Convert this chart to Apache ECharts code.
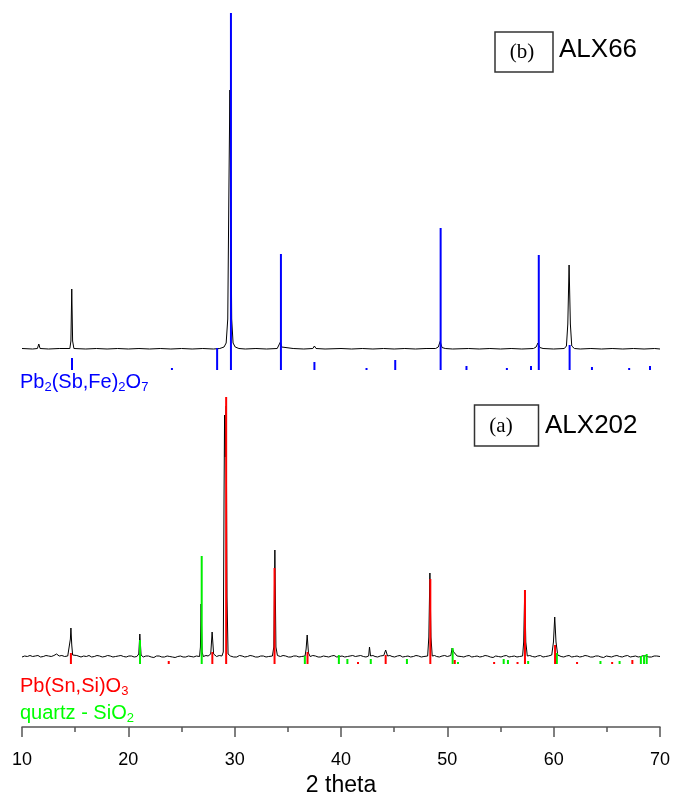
<!DOCTYPE html>
<html>
<head>
<meta charset="utf-8">
<script src="https://cdn.jsdelivr.net/npm/echarts@6/dist/echarts.min.js"></script>
<style>html,body{margin:0;padding:0;background:#fff;}#chart{width:674px;height:793px;}</style>
</head>
<body>
<div id="chart"></div>
<script>
// x axis (2 theta)
const xRange = [10, 70];
const xTickInterval = 10;

// ALX66 measured pattern: [2theta, intensity above its baseline]
const alx66Trace = [
  [10.0,0.5],[11.0,0],[11.45,0.5],[11.58,5],[11.7,0.5],[12.5,0],[13.5,0.5],[14.5,0.5],[14.6,8],[14.68,60],[14.76,8],[14.88,0.5],
  [16,0],[17,0.5],[18,0],[19,0.5],[20,0],[21,0.5],[22,0],[23,0.5],[24,0],[25,0.5],[26,0],[27,0.5],[28,0],[28.6,0.5],
  [29.0,2],[29.2,6],[29.35,30],[29.45,150],[29.55,259],[29.63,160],[29.72,30],[29.85,6],[30.05,2],[30.4,0.5],[31,0],[32,0.5],[33,0],
  [34.0,0.5],[34.18,2],[34.3,7],[34.42,2],[34.6,0],[35.5,0.5],[36.5,0],[37.35,0.5],[37.5,3],[37.65,0.5],[38.5,0],[40,0.5],[41,0],
  [42,0.5],[43,0],[44,0.5],[45,0],[46,0.5],[47,0],[48,0.5],[48.9,0.5],[49.15,2],[49.32,7.5],[49.5,1.5],[49.8,0.5],[50.5,0],[52,0.5],
  [53,0],[54,0.5],[55,0],[56,0.5],[57,0],[58.1,0.5],[58.35,2],[58.52,6],[58.7,1.5],[59,0.5],[60,0],[61.0,0.5],[61.2,3],[61.33,25],
  [61.45,84],[61.57,25],[61.7,3],[61.95,0.5],[62.5,0],[63.5,0.5],[64.5,0],[65.5,0.5],[66.5,0],[67.5,0.5],[68.5,0],[69.5,0.5],[70,0]
];
// Pb2(Sb,Fe)2O7 reference sticks: [2theta, height]
const pbSbFeSticks = [
  [14.7,12],[24.1,2],[28.35,22],[29.65,357],[34.35,116],[37.5,8],[42.4,2],[45.1,10],[49.37,142],[51.8,4],[55.6,2],
  [57.87,4],[58.6,115],[61.5,25],[63.6,3],[67.1,2],[69.06,4]
];
// ALX202 measured pattern
const alx202Trace = [
  [10.0,0],[10.25,1],[10.5,0.5],[10.75,1.5],[11,0.5],[11.25,1],[11.5,1.5],[11.75,0],[12,0.5],[12.25,1.5],[12.5,1],[12.75,0.5],[13,1.5],
  [13.25,3],[13.5,1],[13.75,1.5],[14,0.5],[14.3,1],[14.45,3],[14.55,18],[14.6,29],[14.68,12],[14.76,2],[14.9,0.5],[15.15,1.5],[15.3,1],
  [15.55,0],[15.8,1],[16.05,0.5],[16.3,1.5],[16.55,0],[16.8,0.5],[17.05,1.5],[17.3,1],[17.55,0],[17.8,0.5],[18.05,1.5],[18.3,1],[18.55,0],
  [18.8,0.5],[19.05,1],[19.3,1.5],[19.55,0.5],[19.8,0],[20.05,1],[20.3,1],[20.55,0],[20.8,0.5],
  [20.98,3],[21.08,23],[21.2,2],[21.4,0],[21.65,1],[21.9,1],[22.15,0],[22.4,-0.5],[22.65,1],[22.9,1],[23.15,0],[23.4,0],[23.65,1],[23.9,0.5],
  [24.15,0],[24.4,-0.5],[24.65,0.5],[24.9,1],[25.15,0],[25.4,0],[25.65,1],[25.9,0.5],[26.15,0],
  [26.4,1],[26.7,0.5],[26.78,10],[26.84,53],[26.94,5],[27.05,0.5],[27.3,1.5],[27.5,1],[27.75,3],[27.88,25],[28.02,3],[28.3,0.5],[28.55,1.5],
  [28.8,1],[28.93,5],[29.0,160],[29.05,242],[29.12,200],[29.2,251],[29.28,60],[29.38,3],[29.6,1],[29.9,0],[30.2,0],[30.45,1.5],[30.7,1],
  [30.95,0],[31.2,0.5],[31.45,1.5],[31.7,1],[31.95,0],[32.2,0],[32.45,1],[32.7,1],[32.95,0],[33.2,0.5],
  [33.55,1],[33.68,10],[33.78,107],[33.88,10],[34.02,1.5],[34.3,0.5],[34.55,1.5],[34.8,1],[35.05,0],[35.3,0],[35.55,1],[35.8,1],[36.05,0],
  [36.3,0.5],[36.62,1],[36.72,8],[36.82,22],[36.94,4],[37.1,0.5],[37.35,1.5],[37.6,1],[37.85,0],[38.1,0],[38.35,1],[38.6,0.5],[38.85,0],
  [39.1,1],[39.35,1.5],[39.6,0],[39.85,0.5],[40.1,1],[40.35,0],[40.6,0.5],[40.85,1],[41.1,1.5],[41.35,0.5],[41.6,1],[41.85,1.5],[42.1,0.5],
  [42.35,0],[42.6,1],[42.68,10],[42.78,1],[43.0,1.5],[43.2,0.5],[43.45,0],[43.7,1],[44.02,1.5],[44.2,7],[44.38,1],[44.6,1.5],[44.8,0.5],
  [45.05,0],[45.3,1],[45.55,1.5],[45.8,0],[46.05,0.5],[46.3,1],[46.55,0],[46.8,0.5],[47.05,1.5],[47.3,1],[47.55,0],[47.8,0.5],
  [48.15,1],[48.26,20],[48.36,84],[48.46,20],[48.58,1],[48.8,1.5],[49,0.5],[49.25,0],[49.5,1],[49.75,1.5],[50.0,0.5],[50.33,1.5],[50.45,9],
  [50.6,5],[50.75,7],[50.92,1],[51.1,1.5],[51.3,0.5],[51.55,0],[51.8,1],[52.05,1.5],[52.3,0],[52.55,0.5],[52.8,1],[53.05,0],[53.3,0.5],
  [53.55,1.5],[53.8,1],[54.05,0],[54.3,-0.5],[54.55,1],[54.8,0.5],[55.05,0],[55.3,1],[55.55,1.5],[55.8,0],[56.05,0.5],[56.3,1],[56.55,0],
  [56.8,0.5],[57.08,1],[57.18,15],[57.28,67],[57.38,15],[57.52,1],[57.75,1.5],[58,0.5],[58.25,0],[58.5,1],[58.75,1.5],[59,0],[59.25,0.5],
  [59.5,1],[59.82,2],[59.98,15],[60.1,40],[60.22,15],[60.38,2],[60.55,1.5],[60.7,0.5],[60.95,0],[61.2,1],[61.45,1.5],[61.7,0],[61.95,0.5],
  [62.2,1],[62.45,0],[62.7,0.5],[62.95,1.5],[63.2,1],[63.45,0],[63.7,0],[63.95,1],[64.2,1],[64.45,0],[64.7,-0.5],[64.95,1],[65.2,0.5],
  [65.45,0],[65.7,1],[65.95,1.5],[66.2,0.5],[66.45,0],[66.7,1],[66.95,1.5],[67.2,0],[67.45,0.5],[67.7,1],[67.95,0],[68.2,0.5],[68.45,1.5],
  [68.7,1],[68.95,0],[69.2,0],[69.45,1],[69.7,1],[70,0.5]
];
// Pb(Sn,Si)O3 reference sticks
const pbSnSiSticks = [
  [14.6,11],[23.8,3],[27.9,12],[29.2,267],[33.75,96],[36.85,12],[41.6,2],[44.2,9],[48.4,85],[50.7,4],[54.4,2],[56.6,2],
  [57.3,74],[60.13,19],[62.2,2],[65.5,2],[67.4,4]
];
// quartz - SiO2 reference sticks
const quartzSticks = [
  [21.1,24],[26.9,108],[36.6,8],[39.8,9],[40.6,5],[42.8,5],[46.2,5],[50.5,16],[51.0,2],[55.3,5],[55.7,4],[57.6,3],[60.3,11],
  [64.4,3],[66.2,3],[68.2,8],[68.5,9],[68.75,10]
];

// vertical offsets of the stacked patterns (y axis units)
const yMax = 727;
const off66 = 378, offBlue = 357, off202 = 70, offStick202 = 63;

const chart = echarts.init(document.getElementById('chart'), null, {renderer: 'canvas'});

function shift(arr, off) { return arr.map(p => [p[0], p[1] + off]); }
function sticks(base, color) {
  return function (params, api) {
    const x = api.value(0), h = api.value(1);
    const p0 = api.coord([x, base]);
    const p1 = api.coord([x, base + h]);
    return {type: 'line', shape: {x1: p0[0], y1: p0[1], x2: p1[0], y2: p1[1]},
      style: {stroke: color, lineWidth: 2}};
  };
}

const F = 'Arial, "Liberation Sans", sans-serif';
const sub = {fontSize: 13, lineHeight: 14, verticalAlign: 'bottom', fontFamily: F};
const main = {fontSize: 20, lineHeight: 24, fontFamily: F};

chart.setOption({
  animation: false,
  grid: {left: 22, right: 14, top: 0, bottom: 66, containLabel: false, outerBoundsMode: 'none'},
  xAxis: {
    type: 'value', min: xRange[0], max: xRange[1], interval: xTickInterval,
    name: '2 theta', nameLocation: 'middle', nameGap: 44,
    nameTextStyle: {fontSize: 23, color: '#000', fontFamily: F},
    axisLine: {show: true, lineStyle: {color: '#555', width: 1.5}},
    axisTick: {show: true, length: 10, lineStyle: {color: '#555', width: 1.5}},
    minorTick: {show: true, splitNumber: 2, length: 5, lineStyle: {color: '#555', width: 1.5}},
    axisLabel: {fontSize: 18, color: '#000', margin: 24, fontFamily: F},
    splitLine: {show: false}
  },
  yAxis: {type: 'value', min: 0, max: yMax, show: false, splitLine: {show: false}},
  series: [
    {type: 'line', data: shift(alx66Trace, off66), showSymbol: false, symbol: 'none',
      lineStyle: {color: '#000', width: 1}, z: 2},
    {type: 'line', data: shift(alx202Trace, off202), showSymbol: false, symbol: 'none',
      lineStyle: {color: '#000', width: 1}, z: 2},
    {type: 'custom', data: pbSbFeSticks, renderItem: sticks(offBlue, '#0000ff'), z: 3},
    {type: 'custom', data: quartzSticks, renderItem: sticks(offStick202, '#00ee00'), z: 3},
    {type: 'custom', data: pbSnSiSticks, renderItem: sticks(offStick202, '#ff0000'), z: 4}
  ],
  graphic: [
    {type: 'rect', shape: {x: 495, y: 32, width: 58, height: 40}, style: {fill: 'none', stroke: '#333', lineWidth: 1.5}},
    {type: 'text', x: 522, y: 52, style: {text: '(b)', font: '21px "Liberation Serif", "Times New Roman", serif', fill: '#000', align: 'center', verticalAlign: 'middle'}},
    {type: 'text', x: 559, y: 50, style: {text: 'ALX66', font: '26px Arial, "Liberation Sans", sans-serif', fill: '#000', align: 'left', verticalAlign: 'middle'}},
    {type: 'rect', shape: {x: 474.5, y: 405, width: 64, height: 41}, style: {fill: 'none', stroke: '#333', lineWidth: 1.5}},
    {type: 'text', x: 501, y: 426, style: {text: '(a)', font: '21px "Liberation Serif", "Times New Roman", serif', fill: '#000', align: 'center', verticalAlign: 'middle'}},
    {type: 'text', x: 545, y: 426, style: {text: 'ALX202', font: '26px Arial, "Liberation Sans", sans-serif', fill: '#000', align: 'left', verticalAlign: 'middle'}},
    {type: 'text', x: 20, y: 382, style: {text: '{m|Pb}{s|2}{m|(Sb,Fe)}{s|2}{m|O}{s|7}', fill: '#0000ff', align: 'left', verticalAlign: 'middle',
      rich: {m: Object.assign({fill: '#0000ff'}, main), s: Object.assign({fill: '#0000ff'}, sub)}}},
    {type: 'text', x: 20, y: 686, style: {text: '{m|Pb(Sn,Si)O}{s|3}', fill: '#ff0000', align: 'left', verticalAlign: 'middle',
      rich: {m: Object.assign({fill: '#ff0000'}, main), s: Object.assign({fill: '#ff0000'}, sub)}}},
    {type: 'text', x: 20, y: 713, style: {text: '{m|quartz - SiO}{s|2}', fill: '#00ff00', align: 'left', verticalAlign: 'middle',
      rich: {m: Object.assign({fill: '#00ff00'}, main), s: Object.assign({fill: '#00ff00'}, sub)}}}
  ]
});
</script>
</body>
</html>
